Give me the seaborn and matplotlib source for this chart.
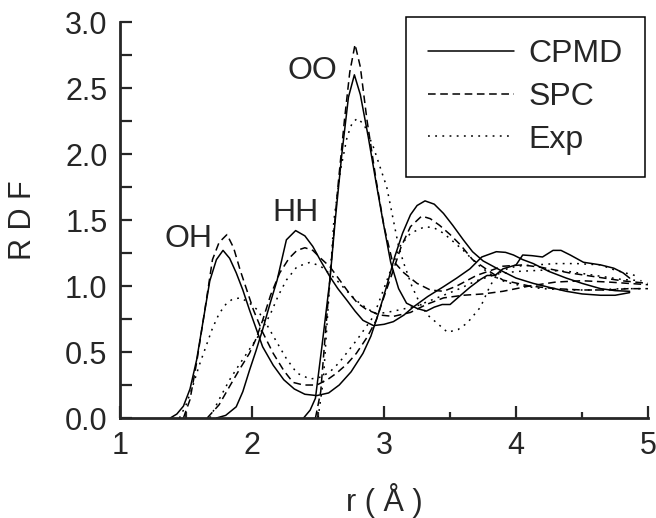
import matplotlib
matplotlib.use("Agg")
import matplotlib.pyplot as plt
from matplotlib.ticker import MultipleLocator, FormatStrFormatter
import pandas as pd
import seaborn as sns

# r (Angstrom) and g(r), one pair of lists per curve
models = ["CPMD", "SPC", "Exp"]

oh_cpmd_r = [1.38, 1.43, 1.48, 1.53, 1.58, 1.63, 1.68, 1.73, 1.78, 1.83, 1.88, 1.93, 1.98, 2.03,
             2.08, 2.16, 2.24, 2.32, 2.40, 2.49, 2.58, 2.66, 2.75, 2.84, 2.90, 2.96, 3.02, 3.08,
             3.14, 3.20, 3.25, 3.31, 3.38, 3.45, 3.52, 3.60, 3.67, 3.75, 3.88, 4.00, 4.13, 4.25,
             4.38, 4.50, 4.64, 4.75, 4.86]
oh_cpmd_g = [0.00, 0.03, 0.09, 0.22, 0.44, 0.74, 1.04, 1.20, 1.27, 1.21, 1.10, 0.97, 0.82, 0.68,
             0.54, 0.40, 0.29, 0.22, 0.18, 0.17, 0.19, 0.25, 0.35, 0.49, 0.62, 0.80, 1.00, 1.22,
             1.40, 1.54, 1.61, 1.645, 1.62, 1.55, 1.46, 1.35, 1.26, 1.19, 1.12, 1.06, 1.02, 0.99,
             0.96, 0.94, 0.93, 0.93, 0.95]

oh_spc_r = [1.48, 1.53, 1.58, 1.63, 1.67, 1.70, 1.75, 1.81, 1.86, 1.91, 1.96, 2.01, 2.08, 2.16,
            2.24, 2.31, 2.39, 2.49, 2.57, 2.64, 2.72, 2.79, 2.87, 2.94, 3.00, 3.07, 3.13, 3.20,
            3.285, 3.35, 3.42, 3.50, 3.58, 3.67, 3.80, 3.90, 4.10, 4.30, 4.50, 4.70, 4.85, 5.00]
oh_spc_g = [0.00, 0.14, 0.42, 0.74, 1.00, 1.20, 1.33, 1.39, 1.29, 1.12, 0.97, 0.82, 0.65, 0.49,
            0.36, 0.27, 0.25, 0.25, 0.29, 0.34, 0.41, 0.49, 0.61, 0.74, 0.92, 1.12, 1.30, 1.45,
            1.53, 1.51, 1.46, 1.39, 1.31, 1.20, 1.11, 1.045, 1.00, 0.98, 0.97, 0.97, 0.98, 0.98]

oh_exp_r = [1.45, 1.50, 1.55, 1.60, 1.65, 1.70, 1.75, 1.80, 1.85, 1.91, 1.97, 2.04, 2.11, 2.19,
            2.26, 2.34, 2.44, 2.52, 2.59, 2.66, 2.73, 2.80, 2.87, 2.92, 2.98, 3.05, 3.12, 3.20,
            3.31, 3.38, 3.45, 3.52, 3.60, 3.67, 3.73, 3.82, 3.92, 4.05, 4.20, 4.40, 4.60, 4.80,
            4.95]
oh_exp_g = [0.00, 0.10, 0.24, 0.40, 0.54, 0.68, 0.79, 0.86, 0.90, 0.91, 0.88, 0.82, 0.71, 0.57,
            0.45, 0.34, 0.295, 0.31, 0.35, 0.42, 0.51, 0.60, 0.70, 0.77, 0.93, 1.12, 1.30, 1.40,
            1.45, 1.44, 1.40, 1.34, 1.27, 1.20, 1.146, 1.08, 1.03, 1.00, 0.98, 0.97, 0.97, 0.98,
            0.98]

hh_cpmd_r = [1.73, 1.80, 1.88, 1.93, 1.98, 2.03, 2.08, 2.14, 2.19, 2.23, 2.26, 2.33, 2.40, 2.46,
             2.52, 2.59, 2.65, 2.72, 2.78, 2.84, 2.92, 3.00, 3.07, 3.15, 3.22, 3.33, 3.45, 3.55,
             3.65, 3.74, 3.85, 3.92, 3.98, 4.05, 4.13, 4.25, 4.38, 4.50, 4.64, 4.75, 4.86]
hh_cpmd_g = [0.00, 0.02, 0.085, 0.20, 0.36, 0.51, 0.67, 0.88, 1.045, 1.22, 1.35, 1.42, 1.38, 1.30,
             1.19, 1.07, 0.98, 0.89, 0.81, 0.74, 0.70, 0.71, 0.73, 0.78, 0.84, 0.92, 0.995, 1.06,
             1.13, 1.22, 1.26, 1.255, 1.235, 1.20, 1.17, 1.11, 1.06, 1.02, 0.98, 0.965, 0.96]

hh_spc_r = [1.66, 1.75, 1.83, 1.90, 1.98, 2.03, 2.08, 2.14, 2.21, 2.28, 2.34, 2.40, 2.46, 2.52,
            2.59, 2.66, 2.74, 2.80, 2.87, 2.97, 3.07, 3.20, 3.32, 3.45, 3.60, 3.75, 3.90, 4.10,
            4.30, 4.50, 4.70, 4.85, 5.00]
hh_spc_g = [0.00, 0.10, 0.24, 0.36, 0.49, 0.60, 0.74, 0.93, 1.10, 1.21, 1.27, 1.29, 1.27, 1.21,
            1.146, 1.05, 0.94, 0.87, 0.82, 0.78, 0.77, 0.80, 0.86, 0.91, 0.93, 0.94, 0.96, 1.00,
            1.03, 1.04, 1.03, 1.02, 1.01]

hh_exp_r = [1.68, 1.75, 1.83, 1.90, 1.98, 2.06, 2.14, 2.20, 2.26, 2.34, 2.44, 2.52, 2.58, 2.64,
            2.72, 2.79, 2.87, 2.94, 3.02, 3.12, 3.25, 3.40, 3.55, 3.70, 3.85, 4.00, 4.20, 4.40,
            4.60, 4.80, 4.95]
hh_exp_g = [0.00, 0.14, 0.29, 0.40, 0.52, 0.64, 0.79, 0.93, 1.045, 1.146, 1.18, 1.15, 1.10, 1.045,
            0.96, 0.89, 0.83, 0.79, 0.80, 0.82, 0.85, 0.91, 0.97, 1.04, 1.09, 1.11, 1.12, 1.11,
            1.08, 1.05, 1.04]

oo_cpmd_r = [2.39, 2.44, 2.48, 2.53, 2.59, 2.63, 2.68, 2.73, 2.775, 2.82, 2.88, 2.94, 2.99, 3.05,
             3.11, 3.17, 3.25, 3.32, 3.38, 3.44, 3.50, 3.58, 3.65, 3.73, 3.78, 3.84, 3.90, 4.00,
             4.05, 4.12, 4.20, 4.28, 4.34, 4.41, 4.51, 4.64, 4.74, 4.81, 4.86]
oo_cpmd_g = [0.00, 0.06, 0.15, 0.55, 1.05, 1.50, 2.00, 2.43, 2.60, 2.45, 2.13, 1.78, 1.50, 1.18,
             0.98, 0.87, 0.83, 0.81, 0.84, 0.86, 0.86, 0.93, 0.99, 1.05, 1.08, 1.08, 1.13, 1.16,
             1.235, 1.23, 1.22, 1.27, 1.27, 1.235, 1.18, 1.16, 1.135, 1.10, 1.06]

oo_spc_r = [2.48, 2.52, 2.56, 2.61, 2.65, 2.70, 2.74, 2.78, 2.82, 2.87, 2.94, 3.00, 3.06, 3.15,
            3.25, 3.35, 3.45, 3.55, 3.70, 3.90, 4.05, 4.20, 4.40, 4.60, 4.80, 5.00]
oo_spc_g = [0.00, 0.20, 0.70, 1.30, 1.75, 2.26, 2.62, 2.83, 2.66, 2.26, 1.80, 1.45, 1.20, 1.10,
            1.02, 0.97, 0.96, 1.00, 1.08, 1.15, 1.16, 1.14, 1.10, 1.07, 1.04, 1.02]

oo_exp_r = [2.50, 2.54, 2.58, 2.62, 2.67, 2.72, 2.76, 2.80, 2.85, 2.92, 2.97, 3.02, 3.07, 3.11,
            3.15, 3.21, 3.27, 3.33, 3.40, 3.48, 3.56, 3.63, 3.68, 3.73, 3.80, 3.85, 3.90, 4.00,
            4.15, 4.30, 4.46, 4.64, 4.75, 4.90]
oo_exp_g = [0.00, 0.29, 0.90, 1.50, 1.88, 2.13, 2.24, 2.27, 2.22, 2.05, 1.90, 1.75, 1.50, 1.30,
            1.17, 1.00, 0.87, 0.78, 0.72, 0.65, 0.67, 0.72, 0.78, 0.84, 0.995, 1.08, 1.12, 1.15,
            1.16, 1.17, 1.17, 1.16, 1.12, 1.08]

curves = [
    ("OH", "CPMD", oh_cpmd_r, oh_cpmd_g),
    ("OH", "SPC", oh_spc_r, oh_spc_g),
    ("OH", "Exp", oh_exp_r, oh_exp_g),
    ("HH", "CPMD", hh_cpmd_r, hh_cpmd_g),
    ("HH", "SPC", hh_spc_r, hh_spc_g),
    ("HH", "Exp", hh_exp_r, hh_exp_g),
    ("OO", "CPMD", oo_cpmd_r, oo_cpmd_g),
    ("OO", "SPC", oo_spc_r, oo_spc_g),
    ("OO", "Exp", oo_exp_r, oo_exp_g),
]

rows = []
for pair, model, r, g in curves:
    for x, y in zip(r, g):
        rows.append({"r": x, "g": y, "pair": pair, "model": model})
df = pd.DataFrame(rows)

# peak labels: (text, r, g)
peak_labels = [("OH", 1.52, 1.36), ("HH", 2.33, 1.55), ("OO", 2.46, 2.63)]

sns.set_style("ticks")
plt.rcParams["font.family"] = ["Liberation Sans", "DejaVu Sans"]

fig = plt.figure(figsize=(6.56, 5.18), dpi=100)
ax = fig.add_axes([0.183, 0.193, 0.805, 0.7645])

dash_map = {"CPMD": "", "SPC": (5, 3), "Exp": (1.2, 3.5)}
sns.lineplot(data=df, x="r", y="g", style="model", style_order=models, units="pair",
             estimator=None, sort=False, color="black", linewidth=1.1,
             dashes=dash_map, ax=ax)

for txt, x, y in peak_labels:
    ax.text(x, y, txt, fontsize=23, ha="center", va="center")

ax.set_xlim(1, 5)
ax.set_ylim(0, 3)
ax.xaxis.set_major_locator(MultipleLocator(1))
ax.xaxis.set_minor_locator(MultipleLocator(0.5))
ax.yaxis.set_major_locator(MultipleLocator(0.5))
ax.yaxis.set_minor_locator(MultipleLocator(0.25))
ax.yaxis.set_major_formatter(FormatStrFormatter("%.1f"))
ax.tick_params(which="both", direction="in", width=1.6, labelsize=22, pad=9)
ax.tick_params(axis="x", which="major", length=8.5)
ax.tick_params(axis="x", which="minor", length=4.5)
ax.tick_params(axis="y", which="both", length=8.5)

sns.despine(ax=ax)
for side in ["left", "bottom"]:
    ax.spines[side].set_linewidth(2.0)

ax.set_xlabel("r ( Å )", fontsize=22)
ax.set_ylabel("R D F", fontsize=22)
ax.xaxis.set_label_coords(0.5, -0.163)
ax.yaxis.set_label_coords(-0.155, 0.5)

handles, labels = ax.get_legend_handles_labels()
keep = [(h, l) for h, l in zip(handles, labels) if l in models]
leg = ax.legend([h for h, _ in keep], [l for _, l in keep], loc="upper right",
                bbox_to_anchor=(0.994, 1.0126), borderaxespad=0, fontsize=23,
                handlelength=2.7, handletextpad=0.45, labelspacing=0.4, borderpad=0.69,
                fancybox=False, edgecolor="black", framealpha=1)
leg.get_frame().set_linewidth(1.1)
for line in leg.get_lines():
    line.set_linewidth(1.1)

fig.savefig("out.png", dpi=100)
